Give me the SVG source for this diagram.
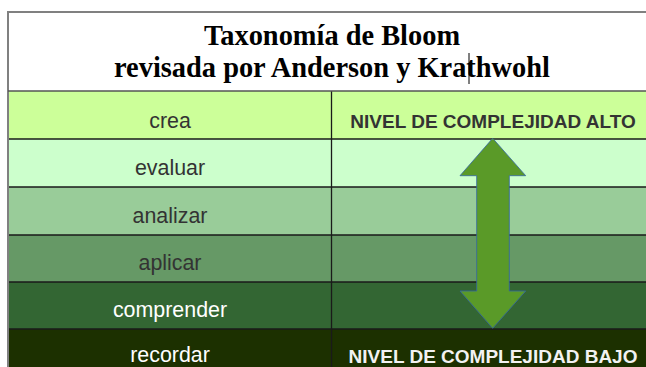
<svg xmlns="http://www.w3.org/2000/svg" width="646" height="367" viewBox="0 0 646 367">
<style>
.lbl{font-family:"Liberation Sans",Arial,sans-serif;font-size:21.4px;text-anchor:middle}
.niv{font-family:"Liberation Sans",Arial,sans-serif;font-size:19px;font-weight:bold;text-anchor:middle}
.ttl{font-family:"Liberation Serif","Times New Roman",serif;font-size:28.4px;font-weight:bold;text-anchor:middle;fill:#000}
.grid{stroke:#1a1a1a;stroke-width:1.3;fill:none}
</style>
<rect x="0" y="0" width="646" height="367" fill="#ffffff"/>
<g id="title">
<rect x="8" y="12" width="650" height="79" fill="#ffffff"/>
<text class="ttl" x="332" y="45">Taxonomía de Bloom</text>
<text class="ttl" x="332" y="77">revisada por Anderson y Krathwohl</text>
<line x1="469" y1="53" x2="469" y2="84" stroke="#000" stroke-width="1"/>
</g>
<g id="row-crea">
<rect x="8" y="91" width="650" height="48" fill="#ccff99"/>
<text class="lbl" x="170" y="128" fill="#333333">crea</text>
<text class="niv" x="493" y="128" fill="#333333">NIVEL DE COMPLEJIDAD ALTO</text>
</g>
<g id="row-evaluar">
<rect x="8" y="139" width="650" height="48" fill="#ccffcc"/>
<text class="lbl" x="170" y="175" fill="#333333">evaluar</text>
</g>
<g id="row-analizar">
<rect x="8" y="187" width="650" height="48" fill="#99cc99"/>
<text class="lbl" x="170" y="223" fill="#333333">analizar</text>
</g>
<g id="row-aplicar">
<rect x="8" y="235" width="650" height="47" fill="#669966"/>
<text class="lbl" x="170" y="270" fill="#333333">aplicar</text>
</g>
<g id="row-comprender">
<rect x="8" y="282" width="650" height="47" fill="#336633"/>
<text class="lbl" x="170" y="317" fill="#ffffff">comprender</text>
</g>
<g id="row-recordar">
<rect x="8" y="329" width="650" height="40" fill="#1c3000"/>
<text class="lbl" x="170" y="362" fill="#ffffff">recordar</text>
<text class="niv" x="493" y="362.5" fill="#f2f2f2">NIVEL DE COMPLEJIDAD BAJO</text>
</g>
<g id="grid">
<line class="grid" x1="8" y1="139" x2="646" y2="139"/>
<line class="grid" x1="8" y1="187" x2="646" y2="187"/>
<line class="grid" x1="8" y1="235" x2="646" y2="235"/>
<line class="grid" x1="8" y1="282" x2="646" y2="282"/>
<line class="grid" x1="8" y1="329" x2="646" y2="329"/>
<line class="grid" x1="331.5" y1="91" x2="331.5" y2="367"/>
<path d="M8 367 V12 H646" fill="none" stroke="#808080" stroke-width="2"/>
<line x1="8" y1="91" x2="646" y2="91" stroke="#555555" stroke-width="1.5"/>
</g>
<g id="connectors">
<path d="M492.7 138.3 L525.7 175.7 L509.3 175.7 L509.3 291 L525.7 291 L492.7 328.3 L460 291 L476.7 291 L476.7 175.7 L460 175.7 Z" fill="#5a9a28" stroke="#3465a4" stroke-width="0.8"/>
</g>
</svg>
